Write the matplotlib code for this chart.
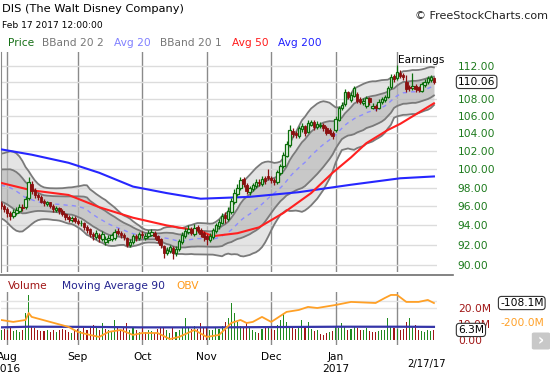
import numpy as np
import pandas as pd
import matplotlib
matplotlib.use('Agg')
import matplotlib.pyplot as plt
import matplotlib.transforms as mtransforms
from matplotlib.ticker import NullLocator
from matplotlib.lines import Line2D
from matplotlib.patches import FancyBboxPatch

# trading days shown on the chart (NYSE holidays removed)
holidays = ['2016-09-05', '2016-11-24', '2016-12-26', '2017-01-02', '2017-01-16']
dates = pd.bdate_range('2016-07-28', '2017-02-17')
dates = dates[~dates.isin(pd.to_datetime(holidays))]

# closes before the first visible day, only used to seed the 20 day bands
july_closes = [96.8, 96.9, 97.3, 98.9, 99.6, 100.3, 100.8, 101.0, 100.6, 100.2,
               99.6, 98.9, 98.2, 97.6, 97.0, 96.6, 96.3, 96.1, 95.9]

opens = [96.3, 96.0,
         95.7, 95.3, 95.0, 95.3, 95.5, 95.9, 95.9, 96.9, 98.4, 97.7, 97.2, 97.0, 96.6, 96.2, 96.4, 96.0, 95.6, 95.8, 95.5, 95.2, 94.9, 94.6, 94.8,
         94.5, 94.2, 94.3, 93.8, 93.6, 93.1, 92.8, 93.0, 92.6, 92.3, 92.5, 92.6, 92.7, 93.4, 93.2, 93.0, 92.7, 92.0, 92.3, 92.9, 92.7,
         93.1, 92.7, 92.9, 93.0, 93.2, 92.9, 92.6, 91.9, 91.2, 91.4, 91.7, 91.2, 91.6, 92.3, 92.9, 93.3, 93.6, 93.1, 93.8, 93.5, 93.2,
         92.9, 92.5, 92.8, 93.4, 93.9, 94.3, 95.1, 94.7, 95.4, 96.4, 97.3, 97.9, 98.9, 98.3, 97.5, 97.8, 98.2, 98.6, 98.4, 99.0, 99.3,
         99.0, 98.8, 98.6, 99.6, 100.3, 101.5, 102.7, 104.3, 104.0, 103.7, 104.5, 104.8, 104.2, 105.0, 105.3, 104.7, 104.8, 105.0, 104.6, 104.4, 104.1,
         104.4, 105.6, 107.0, 107.4, 108.8, 107.9, 108.4, 108.6, 108.0, 107.5, 107.2, 108.1, 107.0, 107.2, 107.0, 107.6, 107.9, 108.3, 109.4, 110.8,
         110.5, 111.2, 110.9, 110.0, 109.5, 109.3, 109.6, 109.4, 109.0, 109.7, 110.0, 110.3, 110.5]
highs = [96.6, 96.2,
         95.9, 95.5, 95.7, 95.9, 96.2, 96.2, 97.1, 99.1, 98.7, 97.9, 97.4, 97.2, 96.8, 96.6, 96.5, 96.2, 96.0, 95.9, 95.7, 95.3, 95.1, 95.0, 95.0,
         94.7, 94.6, 94.4, 94.0, 93.7, 93.3, 93.5, 93.2, 93.4, 92.9, 93.0, 93.2, 93.6, 93.7, 93.4, 93.2, 92.8, 92.6, 93.1, 93.1, 93.3,
         93.4, 93.2, 93.5, 93.6, 93.4, 93.0, 92.7, 92.0, 91.8, 92.0, 91.9, 91.9, 92.6, 93.3, 93.7, 94.0, 93.8, 94.1, 94.0, 93.7, 93.4,
         93.1, 93.2, 93.7, 94.2, 94.7, 95.3, 95.4, 95.9, 96.9, 97.8, 98.4, 99.1, 99.1, 98.5, 98.2, 98.5, 98.9, 98.9, 99.2, 99.2, 100.0,
         99.3, 99.0, 99.9, 100.6, 101.9, 103.1, 105.0, 104.6, 104.3, 104.9, 105.2, 105.0, 105.5, 105.6, 105.5, 105.4, 105.3, 105.2, 104.8, 104.6, 104.3,
         106.0, 107.2, 107.6, 109.2, 109.0, 108.8, 109.6, 108.8, 108.2, 108.1, 108.4, 108.3, 107.5, 107.4, 108.0, 108.3, 108.5, 109.6, 111.0, 111.0,
         112.1, 111.5, 111.2, 110.9, 109.7, 111.2, 109.8, 109.6, 110.1, 110.4, 110.8, 110.9, 110.7]
lows = [95.7, 95.4,
        94.9, 94.6, 94.8, 95.1, 95.3, 95.5, 95.7, 96.7, 97.3, 96.9, 96.7, 96.3, 96.0, 96.0, 95.8, 95.4, 95.4, 95.2, 95.0, 94.6, 94.4, 94.4, 94.2,
        94.0, 93.9, 93.5, 93.2, 92.8, 92.5, 92.6, 92.3, 92.4, 92.0, 92.2, 92.4, 92.5, 93.0, 92.7, 92.5, 91.8, 91.8, 92.1, 92.4, 92.5,
        92.7, 92.5, 92.7, 92.9, 92.6, 92.2, 91.7, 90.7, 91.0, 91.2, 90.6, 90.9, 91.4, 92.1, 92.7, 93.1, 93.0, 92.9, 93.2, 92.8, 92.4,
        92.0, 92.3, 92.6, 93.2, 93.6, 94.1, 94.3, 94.5, 95.2, 96.2, 97.1, 97.7, 98.1, 97.3, 97.2, 97.6, 98.0, 98.2, 98.2, 98.4, 98.8,
        98.5, 98.3, 98.4, 99.4, 100.1, 101.3, 102.5, 103.6, 103.5, 103.5, 104.2, 103.7, 104.0, 104.8, 104.4, 104.5, 104.6, 104.3, 103.8, 103.8, 103.4,
        104.2, 105.4, 106.7, 107.2, 108.0, 107.6, 108.2, 107.5, 107.4, 107.3, 107.0, 107.3, 106.8, 106.6, 106.8, 107.4, 107.7, 108.1, 109.2, 110.1,
        110.3, 110.5, 110.3, 108.9, 109.0, 109.1, 108.9, 108.8, 108.8, 109.5, 109.8, 110.1, 109.8]
closes = [96.0, 95.7,
          95.3, 95.0, 95.4, 95.6, 95.9, 95.8, 96.8, 98.6, 97.6, 97.2, 97.0, 96.5, 96.3, 96.4, 96.0, 95.7, 95.8, 95.5, 95.2, 94.9, 94.7, 94.8, 94.5,
          94.3, 94.3, 93.8, 93.5, 93.1, 92.9, 93.2, 92.7, 93.1, 92.6, 92.7, 93.0, 93.3, 93.2, 93.0, 92.8, 92.0, 92.3, 92.9, 92.7, 93.1,
          93.0, 92.9, 93.2, 93.3, 92.9, 92.5, 92.0, 91.2, 91.5, 91.8, 91.2, 91.6, 92.4, 93.0, 93.4, 93.6, 93.2, 93.7, 93.5, 93.1, 92.8,
          92.6, 92.9, 93.5, 94.0, 94.4, 95.0, 94.8, 95.5, 96.6, 97.4, 98.0, 98.8, 98.4, 97.6, 97.9, 98.3, 98.6, 98.5, 98.9, 98.7, 99.0,
          98.8, 98.6, 99.7, 100.3, 101.6, 102.8, 104.4, 103.9, 103.8, 104.6, 104.9, 104.0, 105.2, 105.3, 104.7, 105.1, 105.0, 104.6, 104.0, 104.1, 103.7,
          105.7, 106.9, 107.3, 108.9, 108.3, 108.5, 109.3, 107.8, 107.7, 107.8, 108.1, 107.6, 107.2, 106.9, 107.7, 108.0, 108.2, 109.3, 110.7, 110.4,
          111.3, 110.8, 110.6, 109.2, 109.3, 109.6, 109.2, 109.1, 109.8, 110.1, 110.5, 110.6, 110.06]

# volume in millions of shares
volumes = [6.5, 7.0,
           6.0, 7.5, 5.5, 6.5, 5.0, 6.0, 17.0, 28.0, 9.0, 7.5, 6.0, 5.5, 5.5, 6.0, 5.0, 6.5, 5.0, 6.0, 7.0, 6.0, 5.0, 4.5, 6.0,
           7.0, 5.5, 7.5, 6.0, 9.0, 9.5, 8.5, 6.5, 10.5, 7.0, 6.0, 5.0, 12.5, 7.5, 6.0, 8.0, 10.5, 6.0, 8.0, 6.5, 5.0,
           7.5, 5.0, 6.0, 5.5, 4.5, 7.0, 7.5, 8.0, 6.0, 4.5, 7.5, 5.0, 6.5, 7.5, 14.0, 8.0, 7.0, 8.5, 7.0, 10.5, 7.5,
           8.0, 6.0, 6.5, 8.0, 7.0, 9.0, 11.0, 14.0, 23.0, 17.0, 11.0, 9.0, 8.0, 10.5, 7.5, 6.0, 5.0, 4.5, 7.0, 7.5, 8.0,
           7.0, 6.5, 9.5, 12.5, 17.0, 11.0, 9.0, 8.0, 7.0, 8.5, 12.5, 8.0, 11.5, 7.0, 5.5, 6.0, 4.0, 3.0, 4.5, 5.0, 5.5,
           8.0, 7.5, 10.5, 9.0, 6.0, 7.0, 8.0, 7.5, 6.0, 6.5, 7.5, 5.5, 5.0, 5.0, 5.5, 6.0, 6.5, 14.0, 9.0, 7.5,
           7.0, 6.0, 7.0, 11.0, 14.0, 8.0, 9.5, 6.0, 5.5, 5.0, 6.0, 5.5, 6.3]

# moving averages at a few trading-day positions
ma50_idx = [0, 10, 22, 32, 43, 54, 65, 69, 77, 84, 92, 101, 108, 114, 119, 126, 130, 141]
ma50_val = [98.5, 97.7, 97.2, 95.9, 94.8, 94.0, 93.4, 92.9, 93.2, 93.8, 95.3, 97.4, 99.6, 101.3, 102.9, 104.4, 105.1, 107.5]
ma200_idx = [0, 10, 22, 32, 43, 54, 65, 81, 97, 114, 130, 141]
ma200_val = [102.2, 101.6, 100.7, 99.6, 98.1, 97.4, 96.8, 97.0, 97.5, 98.3, 99.0, 99.2]
vol_ma90_idx = [0, 9, 29, 45, 70, 90, 110, 130, 141]
vol_ma90_val = [7.9, 8.3, 8.2, 7.9, 7.9, 8.1, 8.3, 8.3, 8.2]
obv_idx = [0, 4, 8, 9, 10, 16, 22, 25, 29, 32, 35, 39, 43, 46, 51, 55, 58, 63, 67, 71, 75, 78, 80, 82,
           85, 88, 89, 93, 97, 100, 103, 109, 114, 122, 125, 127, 129, 132, 136, 139, 141]
obv_val = [-186, -195, -186, -154, -172, -195, -218, -241, -255, -264, -241, -232, -255, -246, -246, -274,
           -264, -232, -264, -255, -200, -186, -200, -195, -172, -195, -186, -149, -140, -126, -131, -117,
           -103, -108, -85, -71, -71, -103, -103, -94, -108.1]

price_ticks = [90, 92, 94, 96, 98, 100, 102, 104, 106, 108, 110, 112]
month_labels = ['Aug\n2016', 'Sep', 'Oct', 'Nov', 'Dec', 'Jan\n2017', '']

GREEN = '#0b6e0b'
RED = '#8b1010'
TICK_GREEN = '#1c7a1c'

opens = np.array(opens)
highs = np.array(highs)
lows = np.array(lows)
closes = np.array(closes)
volumes = np.array(volumes)
x = np.arange(len(closes))

# bollinger bands, 20 days, 1 and 2 std
full = pd.Series(list(july_closes) + list(closes))
mid = full.rolling(20).mean().to_numpy()[len(july_closes):]
sd = full.rolling(20).std(ddof=0).to_numpy()[len(july_closes):]

# first trading day of each month
month_idx = [i for i in range(1, len(dates)) if dates[i].month != dates[i - 1].month]

W, H = 550, 375
fig = plt.figure(figsize=(5.5, 3.75), dpi=100)
ax = fig.add_axes([1 / W, (H - 272) / H, 436 / W, 220 / H])
axv = fig.add_axes([1 / W, (H - 345) / H, 436 / W, 53 / H])

# ---- price panel
ax.set_yscale('log')
ax.set_ylim(89.31, 113.74)
ax.set_xlim(0, 142)
ax.fill_between(x, mid - 2 * sd, mid + 2 * sd, color='#cfcfcf', alpha=0.55, lw=0, zorder=1)
ax.fill_between(x, mid - sd, mid + sd, color='#a8a8a8', alpha=0.45, lw=0, zorder=1)
for k in (-2, -1, 1, 2):
    ax.plot(x, mid + k * sd, color='#7a7a7a', lw=1.3, zorder=2)
ax.plot(x, mid, color='#8c8cff', lw=1.0, dashes=(3, 3), zorder=2)
ax.plot(ma200_idx, ma200_val, color='#2626ff', lw=1.5, zorder=3)
ax.plot(ma50_idx, ma50_val, color='#ff2020', lw=1.5, zorder=3)

up = closes >= opens
ax.vlines(x, lows, highs, colors=np.where(up, GREEN, RED), lw=0.9, zorder=4)
ax.bar(x[up], (closes - opens)[up], bottom=opens[up], width=0.8,
       facecolor='#eaf5ea', edgecolor=GREEN, lw=0.9, zorder=5)
ax.bar(x[~up], (opens - closes)[~up], bottom=closes[~up], width=0.8,
       facecolor=RED, edgecolor=RED, lw=0.6, zorder=5)

ax.yaxis.tick_right()
ax.yaxis.set_minor_locator(NullLocator())
ax.set_yticks(price_ticks)
ax.set_yticklabels(['' if v == 110 else f'{v:.2f}' for v in price_ticks])
ax.tick_params(axis='y', length=0, pad=15, labelcolor=TICK_GREEN, labelsize=7.7)
ax.set_xticks(month_idx)
ax.tick_params(axis='x', length=0, labelbottom=False)
ax.grid(axis='y', color='#dcdcdc', lw=1)
ax.grid(axis='x', color='#8a8a8a', lw=1)
ax.set_axisbelow(True)
for s in ('top', 'right', 'bottom'):
    ax.spines[s].set_visible(False)
ax.spines['left'].set_color('#8a8a8a')

ax.text(1.048, closes[-1], f'{closes[-1]:.2f}', transform=ax.get_yaxis_transform(),
        va='center', ha='left', fontsize=7.7, color='black',
        bbox=dict(boxstyle='round,pad=0.15,rounding_size=0.3', fc='white', ec='#333333', lw=0.8))
earn = mtransforms.blended_transform_factory(ax.transData, ax.transAxes)
ax.text(month_idx[-1] + 0.4, 0.962, 'Earnings', transform=earn, fontsize=7.7, va='center', ha='left')

# ---- volume panel
axv.set_xlim(0, 142)
axv.set_ylim(-3.125, 30)
vol_up = np.r_[True, closes[1:] >= closes[:-1]]
axv.bar(x, volumes, width=0.35, color=np.where(vol_up, '#1f8a1f', '#a01515'), zorder=2)
axv.plot(vol_ma90_idx, vol_ma90_val, color='#3535a8', lw=1.6, zorder=3)
axv.set_xticks(month_idx)
axv.set_xticklabels(month_labels)
axv.tick_params(axis='x', length=0, pad=5, labelsize=7.7)
axv.grid(axis='x', color='#8a8a8a', lw=1)
axv.axhline(20, color='#e4e4e4', lw=1, zorder=0)
for s in axv.spines.values():
    s.set_visible(False)

axo = axv.twinx()
axo.set_ylim(-301.2, -57.4)
axo.plot(obv_idx, obv_val, color='#ffa026', lw=1.3, zorder=4)
axo.axhline(-100, color='#e4e4e4', lw=1, zorder=0)
axo.set_yticks([])
for s in axo.spines.values():
    s.set_visible(False)

# twinx moves the volume ticks to the left, put them back on the right
axv.yaxis.tick_right()
axv.set_yticks([0, 10, 20])
axv.set_yticklabels(['0.00', '10.0M', '20.0M'])
axv.tick_params(axis='y', length=0, pad=15, labelcolor='#a01515', labelsize=7.7)

axo.text(1.1445, -200, '-200.0M', transform=axo.get_yaxis_transform(), va='center',
         ha='left', fontsize=7.7, color='#ffa026')
axo.text(1.1445, obv_val[-1], f'{obv_val[-1]:.1f}M', transform=axo.get_yaxis_transform(),
         va='center', ha='left', fontsize=7.7,
         bbox=dict(boxstyle='round,pad=0.15,rounding_size=0.3', fc='white', ec='#333333', lw=0.8))
axo.text(1.048, (volumes[-1] + 3.125) / 33.125, f'{volumes[-1]:.1f}M', transform=axo.transAxes,
         va='center', ha='left', fontsize=7.7, zorder=6,
         bbox=dict(boxstyle='round,pad=0.15,rounding_size=0.3', fc='white', ec='#333333', lw=0.8))
axv.annotate(f'{dates[-1].month}/{dates[-1].day}/{dates[-1].strftime("%y")}',
             xy=(x[-1], 0), xycoords=('data', 'axes fraction'), xytext=(-5, -16),
             textcoords='offset points', ha='center', fontsize=7.2)

# ---- header and decorations
fig.text(2 / W, 1 - 9 / H, 'DIS (The Walt Disney Company)', fontsize=8.2, va='center')
fig.text(2 / W, 1 - 25 / H, 'Feb 17 2017 12:00:00', fontsize=6.6, va='center')
fig.text(548 / W, 1 - 16 / H, '\u00a9 FreeStockCharts.com', fontsize=8, va='center', ha='right', color='#222222')
legend = [('Price', '#167016', 8), ('BBand 20 2', '#777777', 42), ('Avg 20', '#8080ff', 114),
          ('BBand 20 1', '#777777', 160), ('Avg 50', '#ff1a1a', 232), ('Avg 200', '#2020ff', 278)]
for name, col, px in legend:
    fig.text(px / W, 1 - 43 / H, name, fontsize=7.7, color=col, va='center')
vlegend = [('Volume', '#a01515', 8), ('Moving Average 90', '#23238f', 62), ('OBV', '#ff9a1a', 176)]
for name, col, px in vlegend:
    fig.text(px / W, 1 - 286 / H, name, fontsize=7.7, color=col, va='center')
fig.add_artist(Line2D([0, 453 / W], [1 - 275 / H] * 2, color='#6e6e6e', lw=1.2))
fig.add_artist(FancyBboxPatch((534 / W, 1 - 348 / H), 14 / W, 14 / H,
                              boxstyle='round,pad=0.004', fc='#c8c8c8', ec='none'))
fig.text(541 / W, 1 - 341 / H, '\u203a', fontsize=11, color='white', ha='center', va='center',
         fontweight='bold')

fig.savefig('out.png', dpi=100)
